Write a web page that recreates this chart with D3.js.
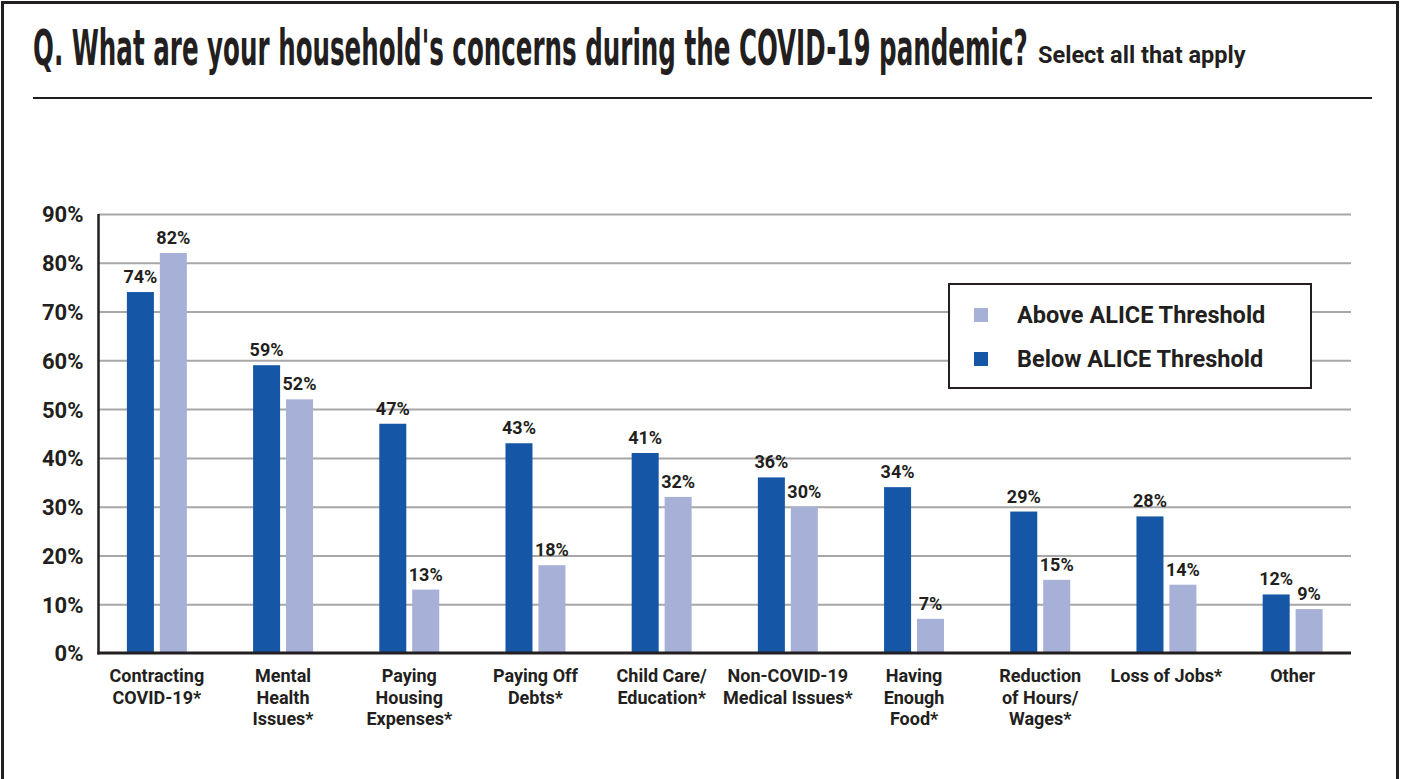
<!DOCTYPE html>
<html>
<head>
<meta charset="utf-8">
<script src="https://cdn.jsdelivr.net/npm/d3@7"></script>
<style>
  body { margin: 0; background: #fff; }
  svg text { font-family: Roboto, 'Noto Sans', sans-serif; font-weight: 700; fill: #231f20; }
  .title { font-family: 'Liberation Sans Narrow', 'DejaVu Sans Condensed', sans-serif; }
  .grid line { stroke: #a8a6a7; stroke-width: 2; }
  .grid path { display: none; }
</style>
</head>
<body>
<div id="chart"></div>
<script>
// categories (x labels split into lines)
let categories = [
    ['Contracting', 'COVID-19*'],
    ['Mental', 'Health', 'Issues*'],
    ['Paying', 'Housing', 'Expenses*'],
    ['Paying Off', 'Debts*'],
    ['Child Care/', 'Education*'],
    ['Non-COVID-19', 'Medical Issues*'],
    ['Having', 'Enough', 'Food*'],
    ['Reduction', 'of Hours/', 'Wages*'],
    ['Loss of Jobs*'],
    ['Other']
]
let belowALICE = [74, 59, 47, 43, 41, 36, 34, 29, 28, 12]
let aboveALICE = [82, 52, 13, 18, 32, 30, 7, 15, 14, 9]
let yTicks = [0, 10, 20, 30, 40, 50, 60, 70, 80, 90]
let seriesNames = ['Below ALICE Threshold', 'Above ALICE Threshold']
let legendOrder = ['Above ALICE Threshold', 'Below ALICE Threshold']

let width = 1401, height = 779
let colors = {'Below ALICE Threshold': '#1656a6', 'Above ALICE Threshold': '#a7b0d7'}

let svg = d3.select('#chart').append('svg').attr('width', width).attr('height', height)

// frame
svg.append('rect')
    .attr('x', 2.5).attr('y', 2.5)
    .attr('width', 1395).attr('height', 820)
    .attr('fill', 'none').attr('stroke', '#231f20').attr('stroke-width', 3)

// title - squeeze the narrow font horizontally to the reference width
let title = svg.append('text')
    .attr('class', 'title')
    .attr('x', 0).attr('y', 0)
    .attr('font-size', 49)
    .text("Q. What are your household's concerns during the COVID-19 pandemic?")
let titleLen = title.node().getComputedTextLength()
title.attr('transform', 'translate(33,65) scale(' + (995 / titleLen) + ',1)')

svg.append('text')
    .attr('x', 1038).attr('y', 63)
    .attr('font-size', 23.5)
    .text('Select all that apply')
svg.append('line')
    .attr('x1', 33).attr('x2', 1372)
    .attr('y1', 98).attr('y2', 98)
    .attr('stroke', '#231f20').attr('stroke-width', 2)

let data = categories.map((c, i) => ({
    key: c.join(' '),
    lines: c,
    values: [
        {series: seriesNames[0], value: belowALICE[i]},
        {series: seriesNames[1], value: aboveALICE[i]}
    ]
}))

let plotLeft = 98.5, plotRight = 1351, plotTop = 214, plotBottom = 653

let x0 = d3.scaleBand()
    .domain(data.map(d => d.key))
    .range([plotLeft, plotRight])
    .paddingInner(0.525)
    .paddingOuter(0.225)

let x1 = d3.scaleBand()
    .domain(seriesNames)
    .range([0, x0.bandwidth()])
    .paddingInner(0.18)

let y = d3.scaleLinear()
    .domain([0, 90])
    .range([plotBottom, plotTop])

// gridlines
svg.append('g')
    .attr('class', 'grid')
    .attr('transform', 'translate(' + plotLeft + ',0)')
    .call(d3.axisRight(y).tickValues(yTicks.slice(1)).tickSize(plotRight - plotLeft).tickFormat(''))

// y tick labels
let yAxis = svg.append('g')
    .attr('transform', 'translate(' + plotLeft + ',0)')
    .call(d3.axisLeft(y).tickValues(yTicks).tickSize(0).tickPadding(15).tickFormat(d => d + '%'))
yAxis.select('.domain').remove()
yAxis.attr('font-family', null).attr('font-size', null)
yAxis.selectAll('text')
    .attr('font-size', 22)
    .attr('fill', '#231f20')
    .attr('dy', '0.36em')

// bars
let groups = svg.append('g').selectAll('g').data(data).enter().append('g')
    .attr('transform', d => 'translate(' + x0(d.key) + ',0)')

groups.selectAll('rect').data(d => d.values).enter().append('rect')
    .attr('x', d => x1(d.series))
    .attr('y', d => y(d.value))
    .attr('width', x1.bandwidth())
    .attr('height', d => y(0) - y(d.value))
    .attr('fill', d => colors[d.series])

groups.selectAll('text.val').data(d => d.values).enter().append('text')
    .attr('class', 'val')
    .attr('x', d => x1(d.series) + x1.bandwidth() / 2)
    .attr('y', d => y(d.value) - 9)
    .attr('text-anchor', 'middle')
    .attr('font-size', 18)
    .text(d => d.value + '%')

// axis lines
svg.append('line')
    .attr('x1', plotLeft).attr('x2', plotLeft)
    .attr('y1', plotTop).attr('y2', plotBottom + 1.5)
    .attr('stroke', '#231f20').attr('stroke-width', 2.5)
svg.append('line')
    .attr('x1', plotLeft - 1).attr('x2', plotRight)
    .attr('y1', plotBottom).attr('y2', plotBottom)
    .attr('stroke', '#231f20').attr('stroke-width', 3)

// x labels
let xLabels = svg.append('g').selectAll('text').data(data).enter().append('text')
    .attr('x', d => x0(d.key) + x0.bandwidth() / 2)
    .attr('y', 682)
    .attr('text-anchor', 'middle')
    .attr('font-size', 18)
xLabels.selectAll('tspan').data(d => d.lines).enter().append('tspan')
    .attr('x', function() { return d3.select(this.parentNode).attr('x') })
    .attr('dy', (d, i) => i == 0 ? 0 : 21.7)
    .text(d => d)

// legend
let legend = svg.append('g').attr('transform', 'translate(949,284)')
legend.append('rect')
    .attr('width', 362).attr('height', 104)
    .attr('fill', '#fff').attr('stroke', '#231f20').attr('stroke-width', 2)
let items = legend.selectAll('g.item').data(legendOrder).enter().append('g')
    .attr('class', 'item')
    .attr('transform', (d, i) => 'translate(0,' + (i * 44) + ')')
items.append('rect')
    .attr('x', 25).attr('y', 24)
    .attr('width', 14).attr('height', 14)
    .attr('fill', d => colors[d])
items.append('text')
    .attr('x', 68).attr('y', 39)
    .attr('font-size', 23.5)
    .text(d => d)
</script>
</body>
</html>
